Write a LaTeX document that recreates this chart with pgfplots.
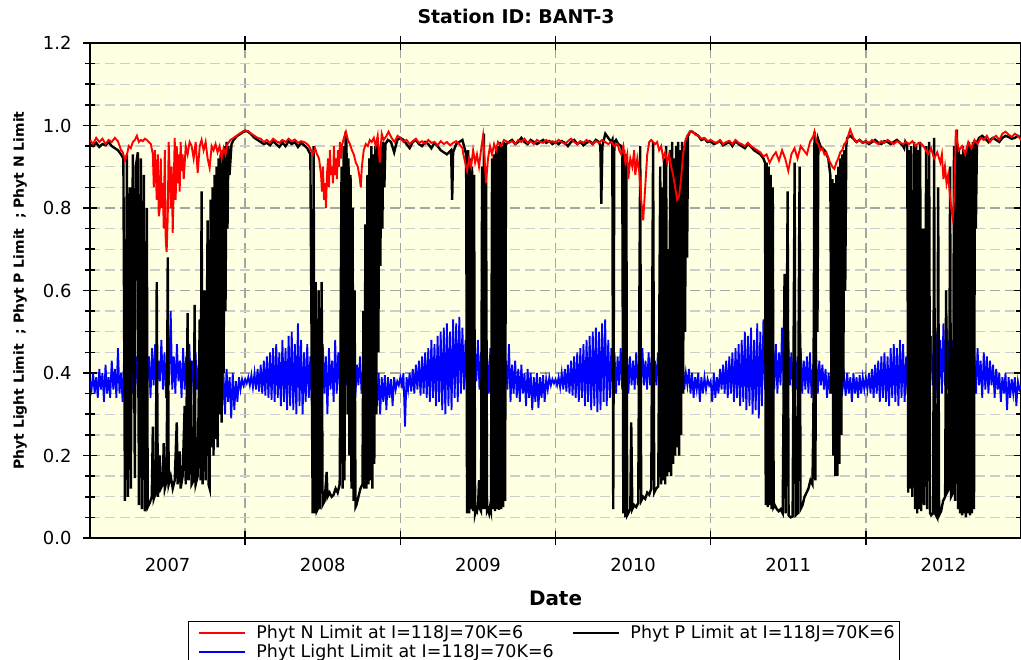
\documentclass[border=0pt]{standalone}
\usepackage{pgfplots}
\pgfplotsset{compat=1.18}
\usepackage{fontspec}
\setmainfont{DejaVu Sans}
\definecolor{bgyellow}{RGB}{255,255,226}
\definecolor{majgrid}{RGB}{165,165,165}
\definecolor{mingrid}{RGB}{205,205,205}
\begin{document}
\begin{tikzpicture}
\useasboundingbox (-90bp,-122bp) rectangle (931bp,538bp);
\begin{axis}[
  at={(0,0)}, anchor=south west,
  scale only axis, width=931bp, height=495bp,
  xmin=2007, xmax=2013, ymin=0, ymax=1.2,
  axis background/.style={fill=bgyellow},
  axis line style={line width=1.6bp},
  xtick={2008,2009,2010,2011,2012},
  xticklabels={,,,,},
  extra x ticks={2007.5,2008.5,2009.5,2010.5,2011.5,2012.5},
  extra x tick labels={2007,2008,2009,2010,2011,2012},
  extra x tick style={grid=none, major tick length=0pt, xticklabel style={yshift=-17bp}},
  ytick={0,0.2,0.4,0.6,0.8,1.0,1.2},
  minor y tick num=3,
  xmajorgrids, ymajorgrids, yminorgrids,
  major grid style={majgrid, line width=1.4bp, dash pattern=on 10bp off 5bp},
  minor grid style={mingrid, line width=1.4bp, dash pattern=on 10bp off 5bp},
  tick align=center, major tick length=14bp, minor tick length=10bp,
  every tick/.style={black, line width=1.5bp},
  /pgf/number format/assume math mode=true,
  ticklabel style={font=\fontsize{18}{21}\selectfont},
  yticklabel style={/pgf/number format/.cd, fixed, fixed zerofill, precision=1, /tikz/.cd, xshift=-8bp},
  title={Station ID: BANT-3},
  title style={at={(axis description cs:0.4576,1)}, anchor=center, yshift=21bp, font=\bfseries\fontsize{19}{22}\selectfont},
  xlabel={Date},
  xlabel style={at={(axis description cs:0.5,0)}, anchor=center, yshift=-60bp, font=\bfseries\fontsize{20}{24}\selectfont},
  ylabel={Phyt Light Limit\ \ ; Phyt P Limit\ \ ; Phyt N Limit},
  ylabel style={at={(axis description cs:-0.0752,0.5)}, anchor=center, font=\bfseries\fontsize{14}{17}\selectfont},
  legend columns=2,
  legend cell align=left,
  legend image code/.code={\path (-6bp,0bp); \draw[#1] (0bp,0bp) -- (46bp,0bp); \path (55bp,0bp);},
  legend style={at={(axis description cs:0.1053,-0.1677)}, anchor=north west, draw=black, line width=1.3bp,
    font=\fontsize{17.5}{19}\selectfont,
    /tikz/every even column/.append style={column sep=10bp}},
]
% legend keys (single points outside the plotted range)
\addplot[red, line width=1.8bp] coordinates {(2000,0.5)};
\addlegendentry{Phyt N Limit at I=118J=70K=6}
\addplot[black, line width=1.8bp] coordinates {(2000,0.5)};
\addlegendentry{Phyt P Limit at I=118J=70K=6}
\addplot[blue, line width=1.8bp] coordinates {(2000,0.5)};
\addlegendentry{Phyt Light Limit at I=118J=70K=6}

% Phyt Light Limit
\addplot[blue, line width=1.8bp, forget plot] coordinates {
(2007.00,.38)(2007.01,.36)(2007.02,.40)(2007.03,.35)(2007.04,.39)(2007.05,.34)(2007.06,.41)(2007.07,.36)(2007.08,.40)(2007.09,.33)
(2007.10,.42)(2007.11,.35)(2007.12,.39)(2007.13,.34)(2007.14,.43)(2007.15,.36)(2007.16,.41)(2007.17,.34)(2007.18,.46)(2007.19,.35)
(2007.20,.40)(2007.21,.33)(2007.22,.44)(2007.23,.36)(2007.24,.47)(2007.25,.38)(2007.26,.45)(2007.27,.35)(2007.28,.48)(2007.29,.37)
(2007.30,.44)(2007.31,.34)(2007.32,.47)(2007.33,.36)(2007.34,.45)(2007.35,.35)(2007.36,.48)(2007.37,.38)(2007.38,.44)(2007.39,.34)
(2007.40,.46)(2007.41,.37)(2007.42,.47)(2007.43,.35)(2007.44,.43)(2007.45,.38)(2007.46,.48)(2007.47,.36)(2007.48,.45)(2007.49,.34)
(2007.50,.49)(2007.51,.37)(2007.52,.55)(2007.53,.36)(2007.54,.44)(2007.55,.35)(2007.56,.47)(2007.57,.38)(2007.58,.43)(2007.59,.34)
(2007.60,.46)(2007.61,.36)(2007.62,.44)(2007.63,.35)(2007.64,.47)(2007.65,.37)(2007.66,.43)(2007.67,.33)(2007.68,.45)(2007.69,.36)
(2007.70,.42)(2007.71,.34)(2007.72,.46)(2007.73,.37)(2007.74,.43)(2007.75,.35)(2007.76,.41)(2007.77,.33)(2007.78,.44)(2007.79,.36)
(2007.80,.40)(2007.81,.32)(2007.82,.42)(2007.83,.35)(2007.84,.39)(2007.85,.31)(2007.86,.40)(2007.87,.30)(2007.88,.41)(2007.89,.33)
(2007.90,.39)(2007.91,.29)(2007.92,.40)(2007.93,.31)(2007.94,.38)(2007.95,.33)(2007.96,.39)(2007.97,.36)(2007.98,.385)(2007.99,.37)
(2008.00,.385)(2008.01,.375)(2008.02,.39)(2008.03,.37)(2008.04,.395)(2008.05,.365)(2008.06,.40)(2008.07,.36)(2008.08,.41)(2008.09,.355)
(2008.10,.42)(2008.11,.35)(2008.12,.43)(2008.13,.345)(2008.14,.44)(2008.15,.34)(2008.16,.45)(2008.17,.335)(2008.18,.46)(2008.19,.33)
(2008.20,.47)(2008.21,.34)(2008.22,.45)(2008.23,.32)(2008.24,.48)(2008.25,.33)(2008.26,.46)(2008.27,.31)(2008.28,.49)(2008.29,.32)
(2008.30,.50)(2008.31,.31)(2008.32,.47)(2008.33,.30)(2008.34,.52)(2008.35,.32)(2008.36,.48)(2008.37,.30)(2008.38,.45)(2008.39,.33)
(2008.40,.47)(2008.41,.34)(2008.42,.44)(2008.43,.32)(2008.44,.46)(2008.45,.33)(2008.46,.43)(2008.47,.28)(2008.48,.45)(2008.49,.34)
(2008.50,.47)(2008.51,.35)(2008.52,.44)(2008.53,.30)(2008.54,.46)(2008.55,.36)(2008.56,.43)(2008.57,.33)(2008.58,.48)(2008.59,.35)
(2008.60,.45)(2008.61,.36)(2008.62,.47)(2008.63,.34)(2008.64,.44)(2008.65,.37)(2008.66,.46)(2008.67,.35)(2008.68,.43)(2008.69,.36)
(2008.70,.45)(2008.71,.34)(2008.72,.42)(2008.73,.37)(2008.74,.44)(2008.75,.35)(2008.76,.41)(2008.77,.33)(2008.78,.43)(2008.79,.36)
(2008.80,.40)(2008.81,.34)(2008.82,.41)(2008.83,.35)(2008.84,.39)(2008.85,.32)(2008.86,.40)(2008.87,.30)(2008.88,.39)(2008.89,.33)
(2008.90,.395)(2008.91,.31)(2008.92,.39)(2008.93,.34)(2008.94,.385)(2008.95,.32)(2008.96,.39)(2008.97,.36)(2008.98,.38)(2008.99,.37)
(2009.00,.39)(2009.01,.37)(2009.02,.40)(2009.03,.27)(2009.04,.39)(2009.05,.36)(2009.06,.40)(2009.07,.355)(2009.08,.41)(2009.09,.35)
(2009.10,.42)(2009.11,.36)(2009.12,.43)(2009.13,.345)(2009.14,.44)(2009.15,.35)(2009.16,.45)(2009.17,.34)(2009.18,.46)(2009.19,.33)
(2009.20,.48)(2009.21,.34)(2009.22,.47)(2009.23,.32)(2009.24,.49)(2009.25,.33)(2009.26,.50)(2009.27,.31)(2009.28,.51)(2009.29,.30)
(2009.30,.52)(2009.31,.32)(2009.32,.50)(2009.33,.31)(2009.34,.53)(2009.35,.34)(2009.36,.52)(2009.37,.33)(2009.38,.536)(2009.39,.35)
(2009.40,.51)(2009.41,.36)(2009.42,.48)(2009.43,.34)(2009.44,.50)(2009.45,.37)(2009.46,.47)(2009.47,.35)(2009.48,.46)(2009.49,.38)
(2009.50,.48)(2009.51,.36)(2009.52,.45)(2009.53,.34)(2009.54,.47)(2009.55,.37)(2009.56,.44)(2009.57,.35)(2009.58,.46)(2009.59,.36)
(2009.60,.45)(2009.61,.34)(2009.62,.47)(2009.63,.36)(2009.64,.44)(2009.65,.35)(2009.66,.45)(2009.67,.34)(2009.68,.43)(2009.69,.36)
(2009.70,.47)(2009.71,.33)(2009.72,.42)(2009.73,.35)(2009.74,.43)(2009.75,.34)(2009.76,.41)(2009.77,.33)(2009.78,.42)(2009.79,.35)
(2009.80,.40)(2009.81,.32)(2009.82,.41)(2009.83,.34)(2009.84,.40)(2009.85,.31)(2009.86,.39)(2009.87,.33)(2009.88,.40)(2009.89,.315)
(2009.90,.39)(2009.91,.34)(2009.92,.395)(2009.93,.33)(2009.94,.385)(2009.95,.36)(2009.96,.39)(2009.97,.37)(2009.98,.385)(2009.99,.375)
(2010.00,.385)(2010.01,.37)(2010.02,.39)(2010.03,.365)(2010.04,.40)(2010.05,.36)(2010.06,.41)(2010.07,.355)(2010.08,.42)(2010.09,.35)
(2010.10,.43)(2010.11,.345)(2010.12,.44)(2010.13,.34)(2010.14,.45)(2010.15,.33)(2010.16,.46)(2010.17,.34)(2010.18,.47)(2010.19,.32)
(2010.20,.48)(2010.21,.33)(2010.22,.49)(2010.23,.31)(2010.24,.50)(2010.25,.32)(2010.26,.51)(2010.27,.305)(2010.28,.50)(2010.29,.31)
(2010.30,.52)(2010.31,.33)(2010.32,.53)(2010.33,.32)(2010.34,.48)(2010.35,.34)(2010.36,.46)(2010.37,.36)(2010.38,.45)(2010.39,.35)
(2010.40,.44)(2010.41,.37)(2010.42,.46)(2010.43,.36)(2010.44,.43)(2010.45,.37)(2010.46,.45)(2010.47,.35)(2010.48,.44)(2010.49,.37)
(2010.50,.43)(2010.51,.36)(2010.52,.45)(2010.53,.37)(2010.54,.44)(2010.55,.36)(2010.56,.46)(2010.57,.37)(2010.58,.43)(2010.59,.36)
(2010.60,.45)(2010.61,.37)(2010.62,.44)(2010.63,.36)(2010.64,.43)(2010.65,.37)(2010.66,.45)(2010.67,.36)(2010.68,.44)(2010.69,.37)
(2010.70,.43)(2010.71,.36)(2010.72,.44)(2010.73,.37)(2010.74,.42)(2010.75,.36)(2010.76,.43)(2010.77,.37)(2010.78,.42)(2010.79,.36)
(2010.80,.41)(2010.81,.37)(2010.82,.43)(2010.83,.36)(2010.84,.40)(2010.85,.37)(2010.86,.41)(2010.87,.35)(2010.88,.40)(2010.89,.34)
(2010.90,.39)(2010.91,.36)(2010.92,.40)(2010.93,.33)(2010.94,.39)(2010.95,.35)(2010.96,.39)(2010.97,.36)(2010.98,.385)(2010.99,.37)
(2011.00,.38)(2011.01,.33)(2011.02,.40)(2011.03,.34)(2011.04,.39)(2011.05,.35)(2011.06,.41)(2011.07,.36)(2011.08,.42)(2011.09,.35)
(2011.10,.43)(2011.11,.34)(2011.12,.44)(2011.13,.35)(2011.14,.45)(2011.15,.33)(2011.16,.46)(2011.17,.34)(2011.18,.47)(2011.19,.32)
(2011.20,.48)(2011.21,.33)(2011.22,.50)(2011.23,.31)(2011.24,.49)(2011.25,.32)(2011.26,.51)(2011.27,.30)(2011.28,.48)(2011.29,.31)
(2011.30,.52)(2011.31,.29)(2011.32,.50)(2011.33,.32)(2011.34,.53)(2011.35,.36)(2011.36,.48)(2011.37,.35)(2011.38,.46)(2011.39,.37)
(2011.40,.50)(2011.41,.36)(2011.42,.47)(2011.43,.35)(2011.44,.45)(2011.45,.37)(2011.46,.51)(2011.47,.36)(2011.48,.46)(2011.49,.34)
(2011.50,.48)(2011.51,.37)(2011.52,.45)(2011.53,.35)(2011.54,.47)(2011.55,.36)(2011.56,.44)(2011.57,.37)(2011.58,.46)(2011.59,.35)
(2011.60,.43)(2011.61,.36)(2011.62,.44)(2011.63,.35)(2011.64,.45)(2011.65,.34)(2011.66,.42)(2011.67,.36)(2011.68,.44)(2011.69,.35)
(2011.70,.43)(2011.71,.37)(2011.72,.42)(2011.73,.36)(2011.74,.41)(2011.75,.34)(2011.76,.40)(2011.77,.35)(2011.78,.41)(2011.79,.36)
(2011.80,.40)(2011.81,.35)(2011.82,.395)(2011.83,.34)(2011.84,.40)(2011.85,.36)(2011.86,.39)(2011.87,.345)(2011.88,.40)(2011.89,.35)
(2011.90,.39)(2011.91,.33)(2011.92,.40)(2011.93,.35)(2011.94,.39)(2011.95,.34)(2011.96,.395)(2011.97,.35)(2011.98,.39)(2011.99,.36)
(2012.00,.39)(2012.01,.36)(2012.02,.40)(2012.03,.35)(2012.04,.41)(2012.05,.34)(2012.06,.42)(2012.07,.35)(2012.08,.43)(2012.09,.33)
(2012.10,.44)(2012.11,.34)(2012.12,.45)(2012.13,.33)(2012.14,.44)(2012.15,.32)(2012.16,.46)(2012.17,.34)(2012.18,.47)(2012.19,.33)
(2012.20,.46)(2012.21,.32)(2012.22,.48)(2012.23,.34)(2012.24,.47)(2012.25,.33)(2012.26,.44)(2012.27,.35)(2012.28,.49)(2012.29,.34)
(2012.30,.47)(2012.31,.36)(2012.32,.50)(2012.33,.35)(2012.34,.46)(2012.35,.37)(2012.36,.48)(2012.37,.34)(2012.38,.45)(2012.39,.36)
(2012.40,.47)(2012.41,.35)(2012.42,.49)(2012.43,.37)(2012.44,.46)(2012.45,.34)(2012.46,.50)(2012.47,.36)(2012.48,.48)(2012.49,.35)
(2012.50,.52)(2012.51,.37)(2012.52,.545)(2012.53,.36)(2012.54,.50)(2012.55,.34)(2012.56,.48)(2012.57,.37)(2012.58,.46)(2012.59,.35)
(2012.60,.47)(2012.61,.36)(2012.62,.44)(2012.63,.35)(2012.64,.46)(2012.65,.37)(2012.66,.45)(2012.67,.34)(2012.68,.47)(2012.69,.36)
(2012.70,.44)(2012.71,.35)(2012.72,.46)(2012.73,.37)(2012.74,.43)(2012.75,.34)(2012.76,.45)(2012.77,.36)(2012.78,.44)(2012.79,.35)
(2012.80,.43)(2012.81,.37)(2012.82,.42)(2012.83,.34)(2012.84,.41)(2012.85,.36)(2012.86,.40)(2012.87,.33)(2012.88,.39)(2012.89,.35)
(2012.90,.40)(2012.91,.31)(2012.92,.39)(2012.93,.34)(2012.94,.385)(2012.95,.35)(2012.96,.39)(2012.97,.32)(2012.98,.38)(2012.99,.36)
(2013.00,.37)
};

% Phyt P Limit
\addplot[black, line width=2.4bp, forget plot] coordinates {
(2007.00,.955)(2007.02,.950)(2007.04,.958)(2007.06,.948)(2007.08,.955)(2007.10,.952)(2007.12,.960)(2007.14,.950)(2007.16,.945)(2007.18,.940)(2007.20,.930)(2007.215,.920)
(2007.225,.09)(2007.238,.93)(2007.244,.10)(2007.257,.85)(2007.263,.12)(2007.276,.93)(2007.289,.145)(2007.295,.90)(2007.308,.935)(2007.315,.08)
(2007.328,.92)(2007.334,.07)(2007.347,.88)(2007.353,.065)(2007.360,.08)(2007.366,.80)(2007.372,.075)(2007.385,.085)(2007.398,.10)(2007.405,.27)
(2007.411,.095)(2007.424,.11)(2007.430,.62)(2007.437,.10)(2007.450,.20)(2007.456,.12)(2007.469,.13)(2007.475,.23)(2007.482,.12)(2007.494,.14)
(2007.501,.68)(2007.507,.13)(2007.520,.15)(2007.533,.12)(2007.546,.14)(2007.559,.28)(2007.565,.13)(2007.578,.21)(2007.584,.12)(2007.597,.15)
(2007.610,.32)(2007.617,.13)(2007.629,.545)(2007.636,.14)(2007.649,.43)(2007.655,.13)(2007.668,.14)(2007.674,.565)(2007.681,.13)(2007.694,.15)
(2007.707,.53)(2007.713,.14)(2007.719,.84)(2007.726,.13)(2007.739,.60)(2007.745,.14)(2007.758,.77)(2007.764,.13)(2007.771,.12)
(2007.777,.82)(2007.784,.22)(2007.790,.85)(2007.796,.20)(2007.803,.88)(2007.809,.24)(2007.816,.90)(2007.822,.22)(2007.828,.92)(2007.835,.30)
(2007.841,.93)(2007.848,.28)(2007.854,.94)(2007.861,.40)(2007.867,.95)(2007.873,.55)(2007.880,.96)(2007.886,.75)(2007.892,.95)(2007.899,.88)
(2007.912,.955)(2007.925,.965)(2007.937,.97)(2007.950,.975)(2007.970,.98)(2007.989,.985)
(2008.00,.987)(2008.02,.985)(2008.04,.978)(2008.06,.970)(2008.08,.965)(2008.10,.960)(2008.12,.955)(2008.14,.958)(2008.16,.952)(2008.18,.962)
(2008.20,.955)(2008.22,.948)(2008.24,.958)(2008.26,.950)(2008.28,.962)(2008.30,.955)(2008.32,.960)(2008.34,.948)(2008.36,.958)(2008.38,.952)
(2008.40,.945)(2008.42,.930)
(2008.435,.06)(2008.441,.95)(2008.448,.06)(2008.454,.62)(2008.461,.065)(2008.467,.07)(2008.473,.60)(2008.480,.07)(2008.493,.62)(2008.499,.08)
(2008.512,.09)(2008.525,.16)(2008.531,.10)(2008.544,.11)(2008.557,.10)(2008.570,.105)(2008.583,.12)(2008.596,.11)(2008.609,.13)(2008.621,.90)
(2008.628,.12)(2008.634,.95)(2008.640,.14)(2008.647,.985)(2008.653,.96)(2008.660,.30)(2008.666,.92)(2008.672,.20)(2008.679,.88)(2008.685,.12)
(2008.692,.80)(2008.698,.09)(2008.705,.60)(2008.711,.075)(2008.717,.08)(2008.730,.10)(2008.743,.12)(2008.756,.13)(2008.762,.55)(2008.768,.12)
(2008.775,.76)(2008.781,.12)(2008.788,.88)(2008.794,.13)(2008.800,.92)(2008.807,.14)(2008.813,.95)(2008.820,.12)(2008.826,.93)(2008.832,.18)
(2008.839,.95)(2008.845,.30)(2008.852,.96)(2008.858,.45)(2008.865,.94)(2008.871,.66)(2008.877,.95)(2008.884,.75)(2008.890,.96)(2008.897,.85)
(2008.904,.955)(2008.92,.965)(2008.94,.96)(2008.96,.935)(2008.98,.965)
(2009.00,.97)(2009.02,.965)(2009.04,.955)(2009.06,.945)(2009.08,.96)(2009.10,.965)(2009.12,.955)(2009.14,.95)(2009.16,.96)(2009.18,.955)
(2009.20,.945)(2009.22,.958)(2009.24,.95)(2009.26,.94)(2009.28,.935)(2009.30,.93)(2009.327,.94)(2009.334,.82)(2009.340,.935)(2009.36,.955)
(2009.38,.96)(2009.40,.965)
(2009.424,.93)(2009.430,.06)(2009.437,.94)(2009.443,.06)(2009.450,.92)(2009.456,.07)(2009.462,.90)(2009.469,.065)(2009.475,.88)(2009.482,.06)
(2009.488,.07)(2009.494,.065)(2009.501,.08)(2009.507,.14)(2009.514,.07)(2009.520,.065)(2009.527,.90)(2009.533,.07)(2009.539,.98)(2009.546,.07)
(2009.552,.90)(2009.559,.065)(2009.565,.07)(2009.572,.06)(2009.578,.075)(2009.584,.065)(2009.591,.92)(2009.597,.07)(2009.604,.93)(2009.610,.065)
(2009.617,.94)(2009.623,.07)(2009.629,.95)(2009.636,.068)(2009.642,.96)(2009.649,.07)(2009.655,.95)(2009.662,.075)(2009.668,.96)(2009.675,.09)
(2009.681,.955)
(2009.70,.96)(2009.72,.965)(2009.74,.955)(2009.76,.96)(2009.78,.97)(2009.80,.96)(2009.82,.955)(2009.84,.965)(2009.86,.96)(2009.88,.955)
(2009.90,.96)(2009.92,.965)(2009.94,.958)(2009.96,.962)(2009.98,.955)
(2010.00,.96)(2010.02,.955)(2010.04,.962)(2010.06,.958)(2010.08,.95)(2010.10,.96)(2010.12,.965)(2010.14,.955)(2010.16,.96)(2010.18,.952)
(2010.20,.958)(2010.22,.962)(2010.24,.955)(2010.26,.965)(2010.28,.96)(2010.289,.95)(2010.295,.81)(2010.302,.95)(2010.321,.98)(2010.34,.97)
(2010.36,.96)(2010.366,.965)(2010.372,.07)(2010.379,.96)(2010.39,.965)(2010.404,.955)(2010.424,.95)(2010.430,.93)
(2010.437,.06)(2010.443,.94)(2010.450,.05)(2010.456,.93)(2010.462,.055)(2010.469,.06)(2010.475,.065)(2010.482,.07)(2010.488,.28)(2010.495,.07)
(2010.507,.08)(2010.520,.075)(2010.533,.085)(2010.546,.95)(2010.552,.09)(2010.565,.10)(2010.578,.095)(2010.591,.11)(2010.604,.105)(2010.617,.12)
(2010.629,.96)(2010.636,.11)(2010.649,.12)(2010.662,.125)(2010.675,.90)(2010.681,.13)(2010.687,.85)(2010.694,.14)(2010.700,.92)(2010.707,.13)
(2010.713,.95)(2010.719,.15)(2010.726,.70)(2010.732,.16)(2010.739,.94)(2010.745,.15)(2010.752,.96)(2010.758,.18)(2010.764,.92)(2010.771,.20)
(2010.777,.95)(2010.784,.22)(2010.790,.96)(2010.797,.20)(2010.803,.94)(2010.809,.25)(2010.816,.96)(2010.822,.35)(2010.829,.95)(2010.835,.50)
(2010.841,.97)(2010.848,.68)(2010.854,.975)(2010.867,.985)
(2010.88,.985)(2010.90,.98)(2010.92,.975)(2010.94,.965)(2010.96,.968)(2010.98,.96)
(2011.00,.962)(2011.02,.955)(2011.04,.958)(2011.06,.963)(2011.08,.952)(2011.10,.956)(2011.12,.96)(2011.14,.95)(2011.16,.962)(2011.18,.955)
(2011.20,.95)(2011.22,.945)(2011.24,.955)(2011.26,.948)(2011.28,.94)(2011.30,.935)(2011.32,.93)(2011.34,.92)(2011.35,.91)
(2011.355,.08)(2011.361,.91)(2011.368,.075)(2011.374,.90)(2011.381,.08)(2011.387,.88)(2011.393,.07)(2011.400,.85)(2011.406,.075)(2011.413,.08)
(2011.426,.07)(2011.438,.065)(2011.451,.07)(2011.464,.06)(2011.476,.64)(2011.483,.06)(2011.496,.84)(2011.502,.055)(2011.515,.05)(2011.528,.052)
(2011.541,.91)(2011.547,.055)(2011.560,.06)(2011.573,.90)(2011.579,.07)(2011.592,.08)(2011.605,.10)(2011.618,.11)(2011.630,.12)(2011.643,.14)
(2011.656,.13)(2011.662,.30)(2011.669,.985)(2011.675,.14)(2011.682,.97)(2011.688,.50)(2011.694,.965)(2011.707,.95)(2011.720,.945)(2011.733,.94)
(2011.746,.93)(2011.758,.92)(2011.771,.88)(2011.778,.35)(2011.784,.87)(2011.790,.20)(2011.797,.86)(2011.803,.15)(2011.810,.88)(2011.816,.15)
(2011.822,.90)(2011.829,.18)(2011.835,.92)(2011.842,.25)(2011.848,.93)(2011.855,.38)(2011.861,.94)(2011.867,.60)(2011.874,.95)(2011.880,.97)
(2011.90,.975)(2011.92,.968)(2011.94,.96)(2011.96,.965)(2011.98,.958)
(2012.00,.962)(2012.02,.955)(2012.04,.96)(2012.06,.965)(2012.08,.958)(2012.10,.955)(2012.12,.962)(2012.14,.96)(2012.16,.955)(2012.18,.96)
(2012.20,.965)(2012.22,.958)(2012.24,.95)
(2012.247,.945)(2012.254,.96)(2012.267,.95)(2012.273,.11)(2012.280,.94)(2012.286,.12)(2012.292,.95)(2012.299,.10)(2012.312,.96)(2012.318,.07)
(2012.325,.95)(2012.331,.06)(2012.337,.94)(2012.344,.07)(2012.350,.96)(2012.357,.065)(2012.369,.75)(2012.376,.08)(2012.389,.95)(2012.395,.07)
(2012.408,.96)(2012.414,.06)(2012.421,.055)(2012.434,.06)(2012.440,.97)(2012.446,.06)(2012.459,.05)(2012.466,.85)(2012.472,.055)(2012.485,.065)
(2012.498,.09)(2012.511,.10)(2012.517,.60)(2012.523,.11)(2012.536,.12)(2012.543,.90)(2012.549,.10)(2012.562,.11)(2012.568,.95)(2012.575,.09)
(2012.581,.96)(2012.587,.99)(2012.594,.07)(2012.600,.94)(2012.607,.06)(2012.613,.93)(2012.620,.055)(2012.626,.95)(2012.632,.06)(2012.639,.94)
(2012.645,.05)(2012.652,.95)(2012.658,.06)(2012.665,.96)(2012.671,.055)(2012.677,.95)(2012.684,.06)(2012.690,.96)(2012.697,.07)(2012.703,.96)
(2012.709,.75)(2012.716,.96)
(2012.73,.97)(2012.75,.975)(2012.77,.968)(2012.79,.96)(2012.80,.965)(2012.82,.97)(2012.84,.965)(2012.86,.96)(2012.88,.97)(2012.90,.975)
(2012.92,.972)(2012.94,.968)(2012.96,.97)(2012.98,.975)(2013.00,.97)
};

% Phyt N Limit
\addplot[red, line width=1.9bp, forget plot] coordinates {
(2007.00,.965)(2007.02,.955)(2007.04,.97)(2007.06,.96)(2007.08,.968)(2007.10,.955)(2007.12,.965)(2007.14,.96)(2007.16,.97)(2007.18,.962)
(2007.20,.94)(2007.212,.935)(2007.225,.915)(2007.238,.93)(2007.250,.95)(2007.263,.945)(2007.276,.96)(2007.289,.965)(2007.302,.975)(2007.315,.96)
(2007.328,.965)(2007.340,.962)(2007.353,.968)(2007.366,.965)(2007.379,.96)(2007.392,.955)(2007.405,.93)(2007.411,.85)(2007.418,.94)(2007.424,.89)
(2007.430,.82)(2007.437,.93)(2007.443,.78)(2007.450,.80)(2007.456,.92)(2007.463,.80)(2007.469,.86)(2007.475,.75)(2007.482,.94)(2007.488,.72)
(2007.494,.693)(2007.501,.78)(2007.507,.96)(2007.514,.88)(2007.520,.80)(2007.526,.90)(2007.533,.74)(2007.539,.85)(2007.546,.97)(2007.552,.82)
(2007.559,.95)(2007.565,.86)(2007.571,.93)(2007.578,.84)(2007.584,.96)(2007.591,.89)(2007.597,.93)(2007.604,.87)(2007.617,.95)(2007.629,.93)
(2007.642,.96)(2007.655,.95)(2007.668,.92)(2007.681,.96)(2007.694,.885)(2007.707,.95)(2007.719,.965)(2007.732,.94)(2007.745,.96)(2007.758,.92)
(2007.771,.897)(2007.784,.95)(2007.796,.94)(2007.809,.955)(2007.822,.935)(2007.835,.95)(2007.848,.92)(2007.861,.945)(2007.873,.93)(2007.886,.955)
(2007.905,.965)(2007.925,.97)(2007.944,.975)(2007.963,.98)(2007.983,.985)
(2008.00,.988)(2008.02,.986)(2008.04,.98)(2008.06,.975)(2008.08,.97)(2008.10,.968)(2008.12,.96)(2008.14,.965)(2008.16,.958)(2008.18,.968)
(2008.20,.962)(2008.22,.958)(2008.24,.965)(2008.26,.96)(2008.28,.968)(2008.30,.962)(2008.32,.966)(2008.34,.958)(2008.36,.962)(2008.38,.96)
(2008.40,.955)(2008.412,.95)(2008.424,.94)(2008.437,.93)(2008.450,.945)(2008.463,.93)(2008.476,.92)(2008.489,.88)(2008.495,.84)(2008.501,.90)
(2008.508,.82)(2008.514,.86)(2008.521,.80)(2008.527,.88)(2008.534,.92)(2008.540,.85)(2008.546,.94)(2008.553,.88)(2008.559,.90)(2008.566,.86)
(2008.572,.95)(2008.578,.88)(2008.585,.92)(2008.591,.87)(2008.598,.94)(2008.604,.90)(2008.611,.96)(2008.617,.92)(2008.623,.95)(2008.636,.97)
(2008.649,.985)(2008.662,.965)(2008.675,.955)(2008.688,.94)(2008.700,.93)(2008.713,.91)(2008.726,.90)(2008.739,.87)(2008.745,.85)(2008.752,.90)
(2008.764,.94)(2008.777,.955)(2008.790,.95)(2008.803,.965)(2008.816,.96)(2008.829,.97)(2008.841,.95)(2008.854,.975)(2008.867,.91)(2008.880,.98)
(2008.892,.965)(2008.911,.975)(2008.924,.985)(2008.943,.97)(2008.963,.96)(2008.982,.975)
(2009.00,.97)(2009.02,.96)(2009.04,.965)(2009.06,.955)(2009.08,.962)(2009.10,.968)(2009.12,.958)(2009.14,.962)(2009.16,.955)(2009.18,.965)
(2009.20,.958)(2009.22,.96)(2009.24,.952)(2009.26,.962)(2009.28,.955)(2009.30,.96)(2009.32,.952)(2009.34,.958)(2009.36,.962)(2009.38,.955)
(2009.40,.945)(2009.406,.93)(2009.418,.91)(2009.430,.89)(2009.443,.92)(2009.456,.90)(2009.469,.94)(2009.482,.91)(2009.494,.93)(2009.507,.90)
(2009.520,.94)(2009.533,.975)(2009.546,.90)(2009.552,.86)(2009.565,.92)(2009.578,.95)(2009.591,.93)(2009.604,.955)(2009.617,.94)(2009.629,.96)
(2009.649,.95)(2009.668,.965)(2009.70,.958)(2009.72,.962)(2009.74,.955)(2009.76,.965)(2009.78,.96)(2009.80,.968)(2009.82,.958)(2009.84,.962)
(2009.86,.955)(2009.88,.965)(2009.90,.96)(2009.92,.958)(2009.94,.965)(2009.96,.96)(2009.98,.962)
(2010.00,.958)(2010.02,.965)(2010.04,.96)(2010.06,.955)(2010.08,.962)(2010.10,.968)(2010.12,.96)(2010.14,.955)(2010.16,.962)(2010.18,.958)
(2010.20,.965)(2010.22,.96)(2010.24,.955)(2010.26,.962)(2010.28,.958)(2010.30,.965)(2010.32,.96)(2010.34,.955)(2010.36,.96)(2010.38,.95)
(2010.40,.955)(2010.411,.94)(2010.424,.93)(2010.437,.95)(2010.450,.91)(2010.462,.93)(2010.469,.87)(2010.482,.92)(2010.495,.90)(2010.507,.94)
(2010.514,.88)(2010.527,.92)(2010.539,.89)(2010.552,.82)(2010.565,.77)(2010.578,.85)(2010.591,.93)(2010.604,.96)(2010.617,.965)(2010.629,.96)
(2010.642,.955)(2010.655,.96)(2010.668,.94)(2010.681,.95)(2010.694,.92)(2010.707,.935)(2010.720,.91)(2010.732,.93)(2010.745,.90)(2010.758,.88)
(2010.771,.85)(2010.784,.82)(2010.797,.83)(2010.809,.87)(2010.822,.93)(2010.835,.96)(2010.848,.975)(2010.867,.985)(2010.886,.985)(2010.90,.978)
(2010.92,.975)(2010.94,.968)(2010.96,.97)(2010.98,.962)
(2011.00,.965)(2011.02,.96)(2011.04,.958)(2011.06,.965)(2011.08,.955)(2011.10,.96)(2011.12,.963)(2011.14,.955)(2011.16,.965)(2011.18,.958)
(2011.20,.955)(2011.22,.95)(2011.24,.958)(2011.26,.95)(2011.28,.945)(2011.30,.94)(2011.32,.935)(2011.34,.925)(2011.36,.93)(2011.38,.91)
(2011.40,.925)(2011.42,.935)(2011.44,.915)(2011.46,.94)(2011.48,.92)(2011.50,.89)(2011.52,.93)(2011.54,.945)(2011.56,.92)(2011.58,.95)
(2011.60,.94)(2011.62,.93)(2011.64,.96)(2011.662,.975)(2011.669,.985)(2011.682,.96)(2011.694,.955)(2011.707,.94)(2011.720,.945)(2011.733,.93)
(2011.746,.935)(2011.758,.92)(2011.771,.91)(2011.784,.90)(2011.797,.895)(2011.810,.91)(2011.822,.92)(2011.835,.935)(2011.848,.94)(2011.861,.955)
(2011.874,.96)(2011.886,.975)(2011.899,.99)(2011.92,.97)(2011.94,.96)(2011.96,.965)(2011.98,.958)
(2012.00,.962)(2012.02,.958)(2012.04,.965)(2012.06,.96)(2012.08,.955)(2012.10,.962)(2012.12,.958)(2012.14,.965)(2012.16,.96)(2012.18,.955)
(2012.20,.962)(2012.22,.958)(2012.24,.955)(2012.26,.96)(2012.28,.955)(2012.30,.962)(2012.32,.95)(2012.34,.958)(2012.36,.955)(2012.38,.945)
(2012.40,.93)(2012.42,.945)(2012.44,.92)(2012.46,.935)(2012.48,.91)(2012.49,.93)(2012.50,.87)(2012.51,.90)(2012.52,.86)(2012.53,.88)
(2012.54,.84)(2012.55,.80)(2012.56,.775)(2012.57,.83)(2012.58,.99)(2012.59,.96)(2012.60,.94)(2012.62,.95)(2012.64,.93)(2012.66,.96)
(2012.68,.945)(2012.70,.965)(2012.72,.955)(2012.74,.97)(2012.76,.965)(2012.78,.975)(2012.80,.96)(2012.82,.97)(2012.84,.975)(2012.86,.965)
(2012.88,.98)(2012.90,.985)(2012.92,.978)(2012.94,.972)(2012.96,.98)(2012.98,.975)(2013.00,.965)
};
\end{axis}
\end{tikzpicture}
\end{document}
